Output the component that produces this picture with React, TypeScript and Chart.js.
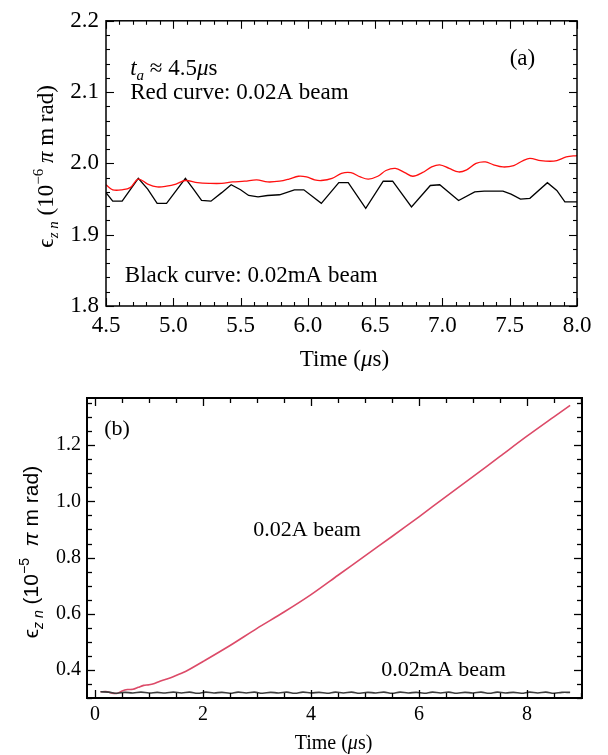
import React, { useEffect, useRef } from 'react';
import { Chart, registerables } from 'chart.js';

Chart.register(...registerables);

// ---------- Panel (a) data ----------
const timeRedA = [4.50, 4.55, 4.62, 4.68, 4.74, 4.81, 4.88, 4.95, 5.02, 5.09, 5.18, 5.27, 5.36, 5.44, 5.53, 5.62, 5.70, 5.79, 5.86, 5.93, 5.99, 6.05, 6.10, 6.18, 6.25, 6.32, 6.39, 6.45, 6.52, 6.58, 6.65, 6.72, 6.78, 6.85, 6.92, 6.98, 7.05, 7.12, 7.18, 7.25, 7.32, 7.38, 7.45, 7.53, 7.60, 7.65, 7.73, 7.80, 7.85, 7.92, 8.00];
const redA = [1.970, 1.963, 1.963, 1.966, 1.978, 1.971, 1.967, 1.968, 1.971, 1.976, 1.973, 1.972, 1.972, 1.974, 1.975, 1.977, 1.974, 1.975, 1.978, 1.982, 1.981, 1.977, 1.976, 1.979, 1.986, 1.987, 1.981, 1.978, 1.982, 1.990, 1.993, 1.987, 1.982, 1.987, 1.995, 1.998, 1.993, 1.988, 1.991, 2.000, 2.002, 1.998, 1.995, 1.997, 2.004, 2.007, 2.004, 2.003, 2.004, 2.009, 2.011];

const timeBlackA = [4.50, 4.55, 4.62, 4.74, 4.81, 4.88, 4.95, 5.09, 5.15, 5.21, 5.28, 5.36, 5.43, 5.50, 5.56, 5.63, 5.70, 5.79, 5.90, 5.97, 6.10, 6.23, 6.30, 6.43, 6.56, 6.63, 6.77, 6.91, 6.98, 7.12, 7.24, 7.31, 7.45, 7.51, 7.58, 7.65, 7.78, 7.85, 7.91, 8.00];
const blackA = [1.959, 1.947, 1.947, 1.979, 1.964, 1.944, 1.944, 1.979, 1.964, 1.948, 1.947, 1.959, 1.970, 1.963, 1.955, 1.953, 1.955, 1.956, 1.963, 1.963, 1.944, 1.973, 1.973, 1.937, 1.975, 1.975, 1.939, 1.969, 1.970, 1.948, 1.960, 1.961, 1.961, 1.957, 1.950, 1.951, 1.973, 1.962, 1.946, 1.946];

const xTicksA = [4.5, 5.0, 5.5, 6.0, 6.5, 7.0, 7.5, 8.0];
const yTicksA = [1.8, 1.9, 2.0, 2.1, 2.2];

// ---------- Panel (b) data ----------
const timeRedB = [0.10, 0.20, 0.30, 0.40, 0.50, 0.60, 0.70, 0.80, 0.90, 1.00, 1.10, 1.20, 1.30, 1.40, 1.50, 1.70, 2.00, 2.50, 3.00, 3.50, 4.00, 4.50, 5.00, 5.50, 6.00, 6.50, 7.00, 7.50, 8.00, 8.50, 8.80];
const redB = [0.322, 0.323, 0.318, 0.316, 0.325, 0.330, 0.331, 0.338, 0.345, 0.347, 0.352, 0.360, 0.366, 0.372, 0.380, 0.397, 0.430, 0.487, 0.548, 0.606, 0.668, 0.737, 0.806, 0.875, 0.945, 1.017, 1.088, 1.160, 1.232, 1.301, 1.342];

const timeBlackB = [0.10, 0.25, 0.40, 0.55, 0.70, 0.85, 1.00, 1.15, 1.30, 1.45, 1.60, 1.75, 1.90, 2.05, 2.20, 2.35, 2.50, 2.65, 2.80, 2.95, 3.10, 3.25, 3.40, 3.55, 3.70, 3.85, 4.00, 4.15, 4.30, 4.45, 4.60, 4.75, 4.90, 5.05, 5.20, 5.35, 5.50, 5.65, 5.80, 5.95, 6.10, 6.25, 6.40, 6.55, 6.70, 6.85, 7.00, 7.15, 7.30, 7.45, 7.60, 7.75, 7.90, 8.05, 8.20, 8.35, 8.50, 8.65, 8.80];
const blackB = [
  0.322, 0.321, 0.317, 0.320, 0.318, 0.321, 0.318, 0.320, 0.318, 0.321,
  0.318, 0.321, 0.317, 0.321, 0.318, 0.320, 0.317, 0.321, 0.318, 0.321,
  0.317, 0.320, 0.318, 0.321, 0.317, 0.321, 0.318, 0.320, 0.317, 0.321,
  0.318, 0.321, 0.317, 0.320, 0.318, 0.321, 0.317, 0.321, 0.318, 0.320,
  0.317, 0.321, 0.318, 0.321, 0.317, 0.320, 0.318, 0.321, 0.317, 0.321,
  0.318, 0.320, 0.317, 0.321, 0.318, 0.321, 0.317, 0.320, 0.320,
];

const xTicksB = [0, 2, 4, 6, 8];
const yTicksB = [0.4, 0.6, 0.8, 1.0, 1.2];

const SERIF = '"Liberation Serif", "DejaVu Serif", serif';
const SANS = '"Liberation Sans", "DejaVu Sans", sans-serif';

function zip(xs: number[], ys: number[]) {
  const n = Math.min(xs.length, ys.length);
  const out: { x: number; y: number }[] = [];
  for (let i = 0; i < n; i++) out.push({ x: xs[i], y: ys[i] });
  return out;
}

type Seg = { t: string; size: number; italic?: boolean; shift?: number };

function seg(t: string, size: number, italic = false, shift = 0): Seg {
  return { t, size, italic, shift };
}

function drawSegs(ctx: CanvasRenderingContext2D, segs: Seg[], x: number, y: number, align: string, family: string) {
  const fontOf = (s: Seg) => `${s.italic ? 'italic ' : ''}${s.size}px ${family}`;
  let total = 0;
  for (const s of segs) {
    ctx.font = fontOf(s);
    total += ctx.measureText(s.t).width;
  }
  let cx = align === 'center' ? x - total / 2 : x;
  const base = y + segs[0].size * 0.33;
  for (const s of segs) {
    ctx.font = fontOf(s);
    ctx.fillText(s.t, cx, base + s.shift);
    cx += ctx.measureText(s.t).width;
  }
}

type FrameOpts = { xMinor: number; xMajor: number; yMinor: number; yMajor: number; majorLen: number; minorLen: number; tickWidth: number; frameWidth: number };

function makeFramePlugin(o: FrameOpts) {
  return {
    id: 'frameTicks',
    afterDatasetsDraw(chart: any) {
      const { ctx, chartArea: a, scales } = chart;
      const xs = scales.x;
      const ys = scales.y;
      ctx.save();
      ctx.strokeStyle = '#000';
      ctx.lineWidth = o.tickWidth;
      const line = (x1: number, y1: number, x2: number, y2: number) => {
        ctx.beginPath();
        ctx.moveTo(x1, y1);
        ctx.lineTo(x2, y2);
        ctx.stroke();
      };
      const isMajor = (v: number, m: number) => Math.abs(v / m - Math.round(v / m)) < 1e-6;
      for (let i = Math.ceil(xs.min / o.xMinor - 1e-9); i * o.xMinor <= xs.max + 1e-9; i++) {
        const v = i * o.xMinor;
        const p = Math.round(xs.getPixelForValue(v)) + 0.5;
        const len = isMajor(v, o.xMajor) ? o.majorLen : o.minorLen;
        line(p, a.bottom, p, a.bottom - len);
        line(p, a.top, p, a.top + len);
      }
      for (let i = Math.ceil(ys.min / o.yMinor - 1e-9); i * o.yMinor <= ys.max + 1e-9; i++) {
        const v = i * o.yMinor;
        const p = Math.round(ys.getPixelForValue(v)) + 0.5;
        const len = isMajor(v, o.yMajor) ? o.majorLen : o.minorLen;
        line(a.left, p, a.left + len, p);
        line(a.right, p, a.right - len, p);
      }
      ctx.lineWidth = o.frameWidth;
      ctx.strokeRect(a.left, a.top, a.right - a.left, a.bottom - a.top);
      ctx.restore();
    },
  };
}

type TextItem = { kind: string; x?: number; y?: number; px?: number; dx?: number; dy?: number; family?: string; segs: Seg[] };

function makeTextPlugin(items: TextItem[]) {
  return {
    id: 'richText',
    afterDraw(chart: any) {
      const { ctx, chartArea: a, scales } = chart;
      ctx.save();
      ctx.fillStyle = '#000';
      ctx.textAlign = 'left';
      ctx.textBaseline = 'alphabetic';
      for (const it of items) {
        const fam = it.family || SERIF;
        if (it.kind === 'data') {
          const px = scales.x.getPixelForValue(it.x);
          const py = scales.y.getPixelForValue(it.y);
          drawSegs(ctx, it.segs, px, py, 'left', fam);
        } else if (it.kind === 'xTitle') {
          drawSegs(ctx, it.segs, (a.left + a.right) / 2 + (it.dx || 0), a.bottom + (it.dy || 0), 'center', fam);
        } else if (it.kind === 'yTitle') {
          ctx.save();
          ctx.translate(it.px || 0, (a.top + a.bottom) / 2 + (it.dy || 0));
          ctx.rotate(-Math.PI / 2);
          drawSegs(ctx, it.segs, 0, 0, 'center', fam);
          ctx.restore();
        }
      }
      ctx.restore();
    },
  };
}

function configA() {
  const texts: TextItem[] = [
    { kind: 'data', x: 4.68, y: 2.135, segs: [seg('t', 23, true), seg('a', 15, true, 5), seg(' ≈ 4.5', 23), seg('μ', 23, true), seg('s', 23)] },
    { kind: 'data', x: 4.68, y: 2.101, segs: [seg('Red curve: 0.02A beam', 23)] },
    { kind: 'data', x: 7.5, y: 2.148, segs: [seg('(a)', 23)] },
    { kind: 'data', x: 4.64, y: 1.844, segs: [seg('Black curve: 0.02mA beam', 23)] },
    { kind: 'xTitle', dy: 52, dx: 3, segs: [seg('Time (', 23), seg('μ', 23, true), seg('s)', 23)] },
    { kind: 'yTitle', px: 45, dy: 3, segs: [seg('ϵ', 23), seg('z n', 15, true, 5), seg(' (10', 23), seg('−6', 15, false, -10), seg(' ', 23), seg('π', 23, true), seg(' m rad)', 23)] },
  ];
  return {
    type: 'line',
    data: {
      datasets: [
        { data: zip(timeRedA, redA), borderColor: '#ff1010', borderWidth: 1.3, pointRadius: 0, tension: 0.35, fill: false },
        { data: zip(timeBlackA, blackA), borderColor: '#000000', borderWidth: 1.3, pointRadius: 0, tension: 0, fill: false },
      ],
    },
    options: {
      responsive: false,
      animation: false,
      events: [],
      layout: { padding: { left: 0, top: 15, right: 31, bottom: 0 } },
      plugins: { legend: { display: false }, tooltip: { enabled: false } },
      scales: {
        x: {
          type: 'linear',
          min: 4.5,
          max: 8.0,
          grid: { display: false, drawTicks: false },
          border: { display: false },
          afterBuildTicks: (s: any) => { s.ticks = xTicksA.map((v) => ({ value: v })); },
          afterFit: (s: any) => { s.height = 69; },
          ticks: {
            color: '#000',
            font: { family: SERIF, size: 23 },
            padding: 6,
            maxRotation: 0,
            autoSkip: false,
            callback: (v: any) => Number(v).toFixed(1),
          },
        },
        y: {
          type: 'linear',
          min: 1.8,
          max: 2.2,
          grid: { display: false, drawTicks: false },
          border: { display: false },
          afterBuildTicks: (s: any) => { s.ticks = yTicksA.map((v) => ({ value: v })); },
          afterFit: (s: any) => { s.width = 106; },
          ticks: {
            color: '#000',
            font: { family: SERIF, size: 23 },
            padding: 7,
            autoSkip: false,
            callback: (v: any) => Number(v).toFixed(1),
          },
        },
      },
    },
    plugins: [
      makeFramePlugin({ xMinor: 0.1, xMajor: 0.5, yMinor: 0.02, yMajor: 0.1, majorLen: 8, minorLen: 4, tickWidth: 1.1, frameWidth: 1.5 }),
      makeTextPlugin(texts),
    ],
  };
}

function configB() {
  const texts: TextItem[] = [
    { kind: 'data', x: 0.17, y: 1.263, segs: [seg('(b)', 22)] },
    { kind: 'data', x: 2.93, y: 0.903, segs: [seg('0.02A beam', 22)] },
    { kind: 'data', x: 5.3, y: 0.403, segs: [seg('0.02mA beam', 22)] },
    { kind: 'xTitle', dy: 44, dx: -1, segs: [seg('Time (', 20), seg('μ', 20, true), seg('s)', 20)] },
    { kind: 'yTitle', px: 31, dy: 4, family: SANS, segs: [seg('ϵ', 21), seg('z n', 14, true, 5), seg(' (10', 21), seg('−5', 14, false, -9), seg('  ', 21), seg('π', 21, true), seg(' m rad)', 21)] },
  ];
  return {
    type: 'line',
    data: {
      datasets: [
        { data: zip(timeBlackB, blackB), borderColor: '#3c3c3c', borderWidth: 1.6, pointRadius: 0, tension: 0.4, fill: false },
        { data: zip(timeRedB, redB), borderColor: '#dc4a68', borderWidth: 1.6, pointRadius: 0, tension: 0.3, fill: false },
      ],
    },
    options: {
      responsive: false,
      animation: false,
      events: [],
      layout: { padding: { left: 0, top: 12, right: 26, bottom: 0 } },
      plugins: { legend: { display: false }, tooltip: { enabled: false } },
      scales: {
        x: {
          type: 'linear',
          min: -0.15,
          max: 9.02,
          grid: { display: false, drawTicks: false },
          border: { display: false },
          afterBuildTicks: (s: any) => { s.ticks = xTicksB.map((v) => ({ value: v })); },
          afterFit: (s: any) => { s.height = 57; },
          ticks: {
            color: '#000',
            font: { family: SERIF, size: 20 },
            padding: 5,
            maxRotation: 0,
            autoSkip: false,
            callback: (v: any) => String(v),
          },
        },
        y: {
          type: 'linear',
          min: 0.3,
          max: 1.368,
          grid: { display: false, drawTicks: false },
          border: { display: false },
          afterBuildTicks: (s: any) => { s.ticks = yTicksB.map((v) => ({ value: v })); },
          afterFit: (s: any) => { s.width = 87; },
          ticks: {
            color: '#000',
            font: { family: SERIF, size: 20 },
            padding: 6,
            autoSkip: false,
            callback: (v: any) => Number(v).toFixed(1),
          },
        },
      },
    },
    plugins: [
      makeFramePlugin({ xMinor: 0.5, xMajor: 2, yMinor: 0.05, yMajor: 0.2, majorLen: 8, minorLen: 5, tickWidth: 1.3, frameWidth: 2 }),
      makeTextPlugin(texts),
    ],
  };
}

function Panel({ makeConfig, top, height }: { makeConfig: () => any; top: number; height: number }) {
  const ref = useRef<HTMLCanvasElement | null>(null);
  useEffect(() => {
    if (!ref.current) return;
    const chart = new Chart(ref.current, makeConfig());
    return () => chart.destroy();
  }, []);
  return (
    <canvas
      ref={ref}
      width={608}
      height={height}
      style={{ position: 'absolute', left: 0, top, width: 608, height }}
    />
  );
}

export default function App() {
  return (
    <div style={{ position: 'absolute', left: 0, top: 0, width: 608, height: 755, background: '#fff', overflow: 'hidden' }}>
      <Panel makeConfig={configA} top={0} height={375} />
      <Panel makeConfig={configB} top={380} height={375} />
    </div>
  );
}
